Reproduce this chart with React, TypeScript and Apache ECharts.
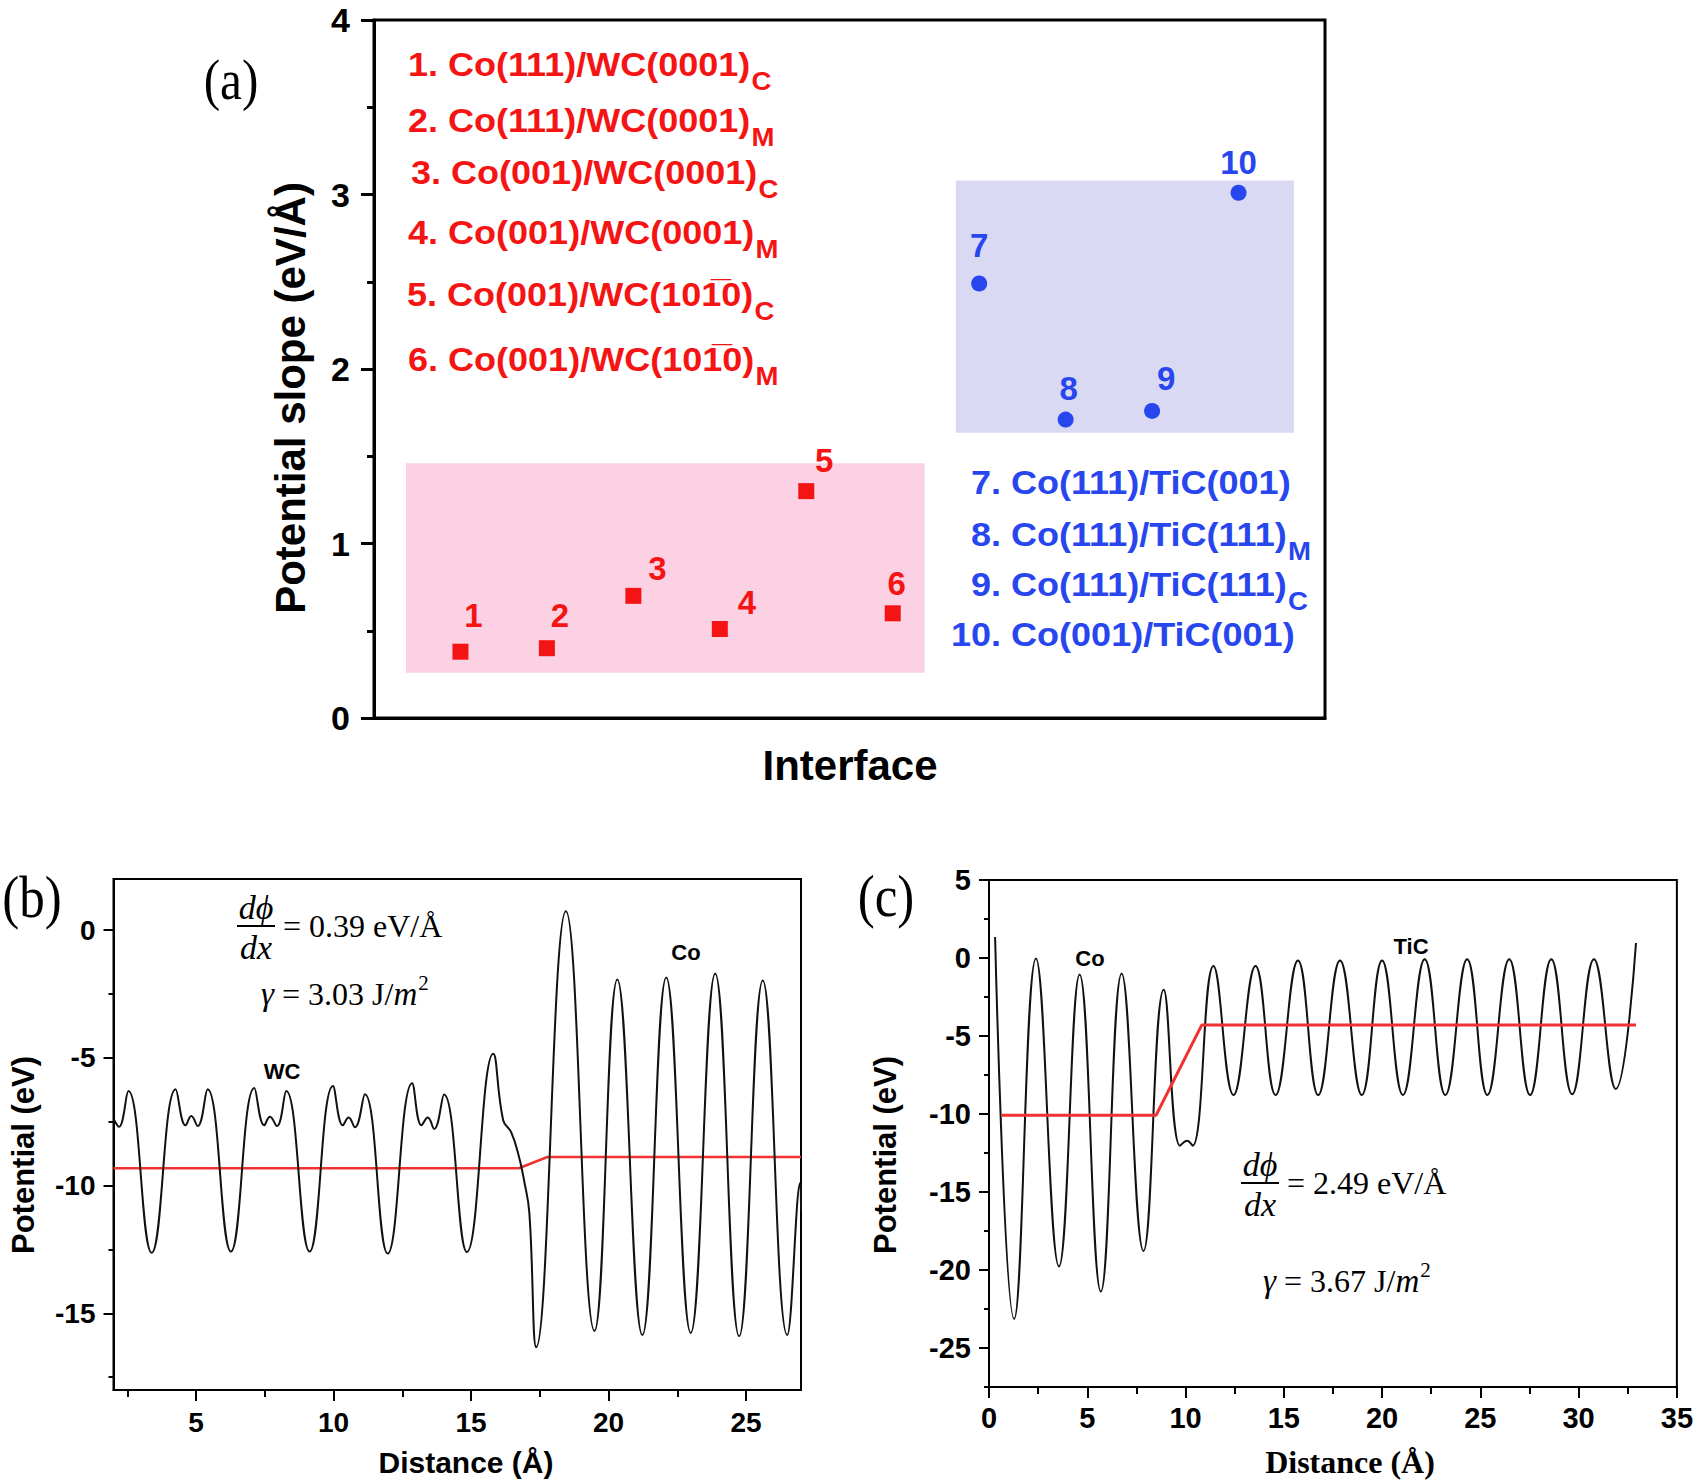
import React, { useEffect, useRef } from 'react';
import * as echarts from 'echarts';

// ---------- DATA ----------
// Panel (a)
const interfaceIds = [1, 2, 3, 4, 5, 6, 7, 8, 9, 10];
const slopeWC = [0.38, 0.4, 0.7, 0.51, 1.3, 0.6];
const slopeTiC = [2.49, 1.71, 1.76, 3.01];
const wcNames = [
  '1. Co(111)/WC(0001)',
  '2. Co(111)/WC(0001)',
  '3. Co(001)/WC(0001)',
  '4. Co(001)/WC(0001)',
  '5. Co(001)/WC(101\u03050)',
  '6. Co(001)/WC(101\u03050)',
];
const wcSubs = ['C', 'M', 'C', 'M', 'C', 'M'];
const ticNames = ['7. Co(111)/TiC(001)', '8. Co(111)/TiC(111)', '9. Co(111)/TiC(111)', '10. Co(001)/TiC(001)'];
const ticSubs = ['', 'M', 'C', ''];
const wcBox = [0.37, 0.26, 6.37, 1.46]; // x0, y0, x1, y1 (data units)
const ticBox = [6.73, 1.635, 10.64, 3.08];

// Panel (b)
const bX = [2.03, 2.2, 2.54, 3.39, 4.26, 4.62, 4.83, 5.06, 5.42, 6.27, 7.12, 7.48, 7.69, 7.94, 8.28, 9.13, 9.98, 10.34, 10.55, 10.78, 11.14, 11.97, 12.86, 13.2, 13.43, 13.66, 14.02, 14.85, 15.81, 16.17, 16.46, 16.74, 16.93, 17.12, 17.37, 18.45, 19.49, 20.32, 21.23, 22.1, 22.99, 23.88, 24.75, 25.61, 26.5, 26.97, 27.0];
const bY = [-7.44, -7.7, -6.3, -12.63, -6.23, -7.64, -7.28, -7.67, -6.23, -12.58, -6.18, -7.64, -7.31, -7.67, -6.3, -12.58, -6.1, -7.64, -7.33, -7.72, -6.42, -12.66, -5.99, -7.64, -7.33, -7.78, -6.43, -12.6, -4.84, -7.44, -7.91, -8.85, -9.8, -11.05, -16.32, 0.74, -15.69, -1.93, -15.85, -1.86, -15.77, -1.7, -15.9, -1.97, -15.85, -9.9, -11.0];
const bRedX = [2, 16.74, 17.78, 27];
const bRedY = [-9.32, -9.32, -8.88, -8.88];
const bXTicks = [5, 10, 15, 20, 25];
const bXMinor = [2.5, 7.5, 12.5, 17.5, 22.5];
const bYTicks = [-15, -10, -5, 0];
const bYMinor = [-17.5, -12.5, -7.5, -2.5];

// Panel (c)
const cX = [0.31, 1.28, 2.39, 3.56, 4.61, 5.69, 6.75, 7.86, 8.89, 9.72, 10.08, 10.36, 11.42, 12.44, 13.56, 14.58, 15.72, 16.75, 17.86, 18.97, 20.0, 21.06, 22.17, 23.22, 24.33, 25.36, 26.47, 27.53, 28.61, 29.67, 30.78, 31.89, 32.92];
const cY = [1.35, -23.14, -0.03, -19.77, -1.06, -21.38, -0.99, -18.78, -2.03, -12.03, -11.71, -12.03, -0.52, -8.78, -0.52, -8.78, -0.16, -8.78, -0.16, -8.78, -0.16, -8.78, -0.08, -8.78, -0.08, -8.78, -0.08, -8.78, -0.08, -8.73, -0.08, -8.39, 0.96];
const cRedX = [0.64, 8.5, 10.83, 32.92];
const cRedY = [-10.08, -10.08, -4.29, -4.29];
const cYTicks = [-25, -20, -15, -10, -5, 0, 5];
const cYMinor = [-27.5, -22.5, -17.5, -12.5, -7.5, -2.5, 2.5];

// ---------- STYLE ----------
const SANS = "'Liberation Sans', Arial, sans-serif";
const SERIF = "'Liberation Serif', 'Times New Roman', serif";
const RED = '#f51414';
const BLUE = '#2846ee';
const PINK = '#fbd1e3';
const LAV = '#d9d9f4';
const labelOffsets = [[13, -36], [13, -33], [24, -27], [27, -27], [18, -31], [4, -30], [0, -38], [3, -31], [14, -32], [0, -30]];
const redLegendPos = [[408, 64], [408, 120], [411, 172], [408, 232], [407, 294], [408, 359]];
const blueLegendPos = [[971, 482], [971, 534], [971, 584], [951, 634]];

function txt(x: number, y: number, text: string, opts: any = {}) {
  const { rotation, scaleX, ...style } = opts;
  const el: any = {
    type: 'text',
    x,
    y,
    silent: true,
    style: {
      text,
      fill: '#000',
      textAlign: 'center',
      align: 'center',
      textVerticalAlign: 'middle',
      verticalAlign: 'middle',
      fontFamily: SANS,
      ...style,
    },
  };
  if (rotation) el.rotation = rotation;
  if (scaleX) el.scaleX = scaleX;
  return el;
}

function legend(x: number, y: number, main: string, sub: string, color: string) {
  return {
    type: 'text',
    x,
    y,
    scaleX: 1.06,
    silent: true,
    style: {
      text: sub ? `{m|${main}}{s|${sub}}` : `{m|${main}}`,
      textAlign: 'left',
      align: 'left',
      textVerticalAlign: 'middle',
      verticalAlign: 'middle',
      fill: color,
      rich: {
        m: { fontSize: 34, fontWeight: 'bold', fontFamily: SANS, fill: color, color },
        s: { fontSize: 26, fontWeight: 'bold', fontFamily: SANS, fill: color, color, padding: [34, 0, 0, 1] },
      },
    },
  };
}

function fraction(cx: number, cy: number, rhs: string) {
  return [
    txt(cx, cy - 19, 'd\u03D5', { fontFamily: SERIF, fontStyle: 'italic', fontSize: 34 }),
    { type: 'line', silent: true, shape: { x1: cx - 19, y1: cy, x2: cx + 19, y2: cy }, style: { stroke: '#000', lineWidth: 2 } },
    txt(cx, cy + 21, 'dx', { fontFamily: SERIF, fontStyle: 'italic', fontSize: 34 }),
    txt(cx + 27, cy, rhs, { fontFamily: SERIF, fontSize: 32, textAlign: 'left', align: 'left' }),
  ];
}

function gamma(x: number, y: number, val: string) {
  return {
    type: 'text',
    x,
    y,
    silent: true,
    style: {
      text: `{i|\u03B3}{r| = ${val} J/}{i|m}{p|2}`,
      textAlign: 'left',
      align: 'left',
      textVerticalAlign: 'middle',
      verticalAlign: 'middle',
      fill: '#000',
      rich: {
        i: { fontSize: 33, fontFamily: SERIF, fontStyle: 'italic', fill: '#000' },
        r: { fontSize: 32, fontFamily: SERIF, fill: '#000' },
        p: { fontSize: 21, fontFamily: SERIF, fill: '#000', padding: [0, 0, 22, 1] },
      },
    },
  };
}

const zip = (xs: number[], ys: number[]) => xs.map((x, i) => [x, ys[i]]);

function buildOption(): any {
  const minorAxis = (grid: number, min: number, max: number, values: number[], len: number, isX: boolean) => ({
    gridIndex: grid,
    type: 'value',
    min,
    max,
    position: isX ? 'bottom' : 'left',
    axisLine: { show: false, onZero: false },
    axisTick: { show: true, customValues: values, length: len, lineStyle: { color: '#000', width: 2 } },
    axisLabel: { show: false },
    splitLine: { show: false },
  });
  const tickFont = (size: number) => ({ fontSize: size, fontWeight: 'bold', fontFamily: SANS, color: '#000' });

  return {
    animation: false,
    backgroundColor: '#fff',
    grid: [
      { left: 374, top: 20, width: 951, height: 698, show: true, borderColor: '#000', borderWidth: 3, backgroundColor: 'rgba(0,0,0,0)' },
      { left: 113.5, top: 879, width: 687.5, height: 511, show: true, borderColor: '#000', borderWidth: 2, backgroundColor: 'rgba(0,0,0,0)' },
      { left: 989, top: 880, width: 691, height: 507, show: true, borderColor: '#000', borderWidth: 2, backgroundColor: 'rgba(0,0,0,0)' },
    ],
    xAxis: [
      {
        gridIndex: 0, type: 'value', min: 0, max: 11,
        axisLine: { show: true, onZero: false, lineStyle: { color: '#000', width: 3 } },
        axisTick: { show: false }, axisLabel: { show: false }, splitLine: { show: false },
      },
      {
        gridIndex: 1, type: 'value', min: 2, max: 27, position: 'bottom',
        axisLine: { show: true, onZero: false, lineStyle: { color: '#000', width: 2 } },
        axisTick: { show: true, customValues: bXTicks, length: 11, lineStyle: { color: '#000', width: 2 } },
        axisLabel: { show: true, customValues: bXTicks, margin: 18, ...tickFont(28) },
        splitLine: { show: false },
      },
      minorAxis(1, 2, 27, bXMinor, 7, true),
      {
        gridIndex: 2, type: 'value', min: 0, max: 35, interval: 5, position: 'bottom',
        axisLine: { show: true, onZero: false, lineStyle: { color: '#000', width: 2 } },
        axisTick: { show: true, length: 11, lineStyle: { color: '#000', width: 2 } },
        minorTick: { show: true, splitNumber: 2, length: 7, lineStyle: { color: '#000', width: 2 } },
        axisLabel: { show: true, margin: 16, ...tickFont(29) },
        splitLine: { show: false },
      },
    ],
    yAxis: [
      {
        gridIndex: 0, type: 'value', min: 0, max: 4, interval: 1,
        axisLine: { show: true, onZero: false, lineStyle: { color: '#000', width: 3 } },
        axisTick: { show: true, length: 13, lineStyle: { color: '#000', width: 3 } },
        minorTick: { show: true, splitNumber: 2, length: 7, lineStyle: { color: '#000', width: 3 } },
        axisLabel: { show: true, margin: 24, ...tickFont(34) },
        splitLine: { show: false },
      },
      {
        gridIndex: 1, type: 'value', min: -18, max: 2, position: 'left',
        axisLine: { show: true, onZero: false, lineStyle: { color: '#000', width: 2 } },
        axisTick: { show: true, customValues: bYTicks, length: 10, lineStyle: { color: '#000', width: 2 } },
        axisLabel: { show: true, customValues: bYTicks, margin: 18, ...tickFont(28) },
        splitLine: { show: false },
      },
      minorAxis(1, -18, 2, bYMinor, 5, false),
      {
        gridIndex: 2, type: 'value', min: -27.5, max: 5, position: 'left',
        axisLine: { show: true, onZero: false, lineStyle: { color: '#000', width: 2 } },
        axisTick: { show: true, customValues: cYTicks, length: 10, lineStyle: { color: '#000', width: 2 } },
        axisLabel: { show: true, customValues: cYTicks, margin: 18, ...tickFont(29) },
        splitLine: { show: false },
      },
      minorAxis(2, -27.5, 5, cYMinor, 5, false),
    ],
    series: [
      {
        type: 'scatter', xAxisIndex: 0, yAxisIndex: 0, symbol: 'rect', symbolSize: 16,
        itemStyle: { color: RED, opacity: 1 },
        data: slopeWC.map((v, i) => ({ value: [interfaceIds[i], v], label: { offset: labelOffsets[i] } })),
        label: {
          show: true, position: 'inside', color: RED, fontSize: 33, fontWeight: 'bold', fontFamily: SANS,
          formatter: (p: any) => String(interfaceIds[p.dataIndex]),
        },
        markArea: {
          silent: true, itemStyle: { color: PINK, opacity: 1 },
          data: [[{ xAxis: wcBox[0], yAxis: wcBox[1] }, { xAxis: wcBox[2], yAxis: wcBox[3] }]],
        },
        z: 3,
      },
      {
        type: 'scatter', xAxisIndex: 0, yAxisIndex: 0, symbol: 'circle', symbolSize: 16,
        itemStyle: { color: BLUE, opacity: 1 },
        data: slopeTiC.map((v, i) => ({ value: [interfaceIds[i + 6], v], label: { offset: labelOffsets[i + 6] } })),
        label: {
          show: true, position: 'inside', color: BLUE, fontSize: 33, fontWeight: 'bold', fontFamily: SANS,
          formatter: (p: any) => String(interfaceIds[p.dataIndex + 6]),
        },
        markArea: {
          silent: true, itemStyle: { color: LAV, opacity: 1 },
          data: [[{ xAxis: ticBox[0], yAxis: ticBox[1] }, { xAxis: ticBox[2], yAxis: ticBox[3] }]],
        },
        z: 3,
      },
      {
        type: 'line', xAxisIndex: 1, yAxisIndex: 1, data: zip(bRedX, bRedY), showSymbol: false, symbol: 'none',
        lineStyle: { color: '#f03232', width: 2.5 }, z: 2,
      },
      {
        type: 'line', xAxisIndex: 1, yAxisIndex: 1, data: zip(bX, bY), showSymbol: false, symbol: 'none', smooth: 0.45,
        lineStyle: { color: '#111', width: 2 }, z: 3,
      },
      {
        type: 'line', xAxisIndex: 3, yAxisIndex: 3, data: zip(cRedX, cRedY), showSymbol: false, symbol: 'none',
        lineStyle: { color: '#f03232', width: 3 }, z: 4,
      },
      {
        type: 'line', xAxisIndex: 3, yAxisIndex: 3, data: zip(cX, cY), showSymbol: false, symbol: 'none', smooth: 0.45,
        lineStyle: { color: '#111', width: 2 }, z: 3,
      },
    ],
    graphic: [
      // panel letters
      txt(231, 80, '(a)', { fontFamily: SERIF, fontSize: 58, scaleX: 0.85 }),
      txt(32, 897, '(b)', { fontFamily: SERIF, fontSize: 60, scaleX: 0.85 }),
      txt(886, 896, '(c)', { fontFamily: SERIF, fontSize: 60, scaleX: 0.85 }),
      // axis titles
      txt(290, 398, 'Potential slope (eV/\u00C5)', { fontSize: 42, fontWeight: 'bold', rotation: Math.PI / 2 }),
      txt(850, 765, 'Interface', { fontSize: 42, fontWeight: 'bold' }),
      txt(23, 1155, 'Potential (eV)', { fontSize: 31, fontWeight: 'bold', rotation: Math.PI / 2 }),
      txt(466, 1462, 'Distance (\u00C5)', { fontSize: 30, fontWeight: 'bold' }),
      txt(885, 1155, 'Potential (eV)', { fontSize: 31, fontWeight: 'bold', rotation: Math.PI / 2 }),
      txt(1350, 1462, 'Distance (\u00C5)', { fontFamily: SERIF, fontSize: 32, fontWeight: 'bold' }),
      // legends
      ...wcNames.map((n, i) => legend(redLegendPos[i][0], redLegendPos[i][1], n, wcSubs[i], RED)),
      ...ticNames.map((n, i) => legend(blueLegendPos[i][0], blueLegendPos[i][1], n, ticSubs[i], BLUE)),
      // material labels
      txt(282, 1071, 'WC', { fontSize: 22, fontWeight: 'bold' }),
      txt(686, 952, 'Co', { fontSize: 22, fontWeight: 'bold' }),
      txt(1090, 958, 'Co', { fontSize: 22, fontWeight: 'bold' }),
      txt(1411, 946, 'TiC', { fontSize: 22, fontWeight: 'bold' }),
      // equations
      ...fraction(256, 926, '= 0.39 eV/\u00C5'),
      gamma(261, 994, '3.03'),
      ...fraction(1260, 1183, '= 2.49 eV/\u00C5'),
      gamma(1263, 1281, '3.67'),
    ],
  };
}

export default function App() {
  const ref = useRef<HTMLDivElement>(null);
  useEffect(() => {
    if (!ref.current) return;
    const chart = echarts.init(ref.current, undefined, { renderer: 'svg' });
    chart.setOption(buildOption());
    return () => chart.dispose();
  }, []);
  return (
    <div
      ref={ref}
      style={{ position: 'absolute', left: 0, top: 0, width: 1696, height: 1484, background: '#fff' }}
    />
  );
}
